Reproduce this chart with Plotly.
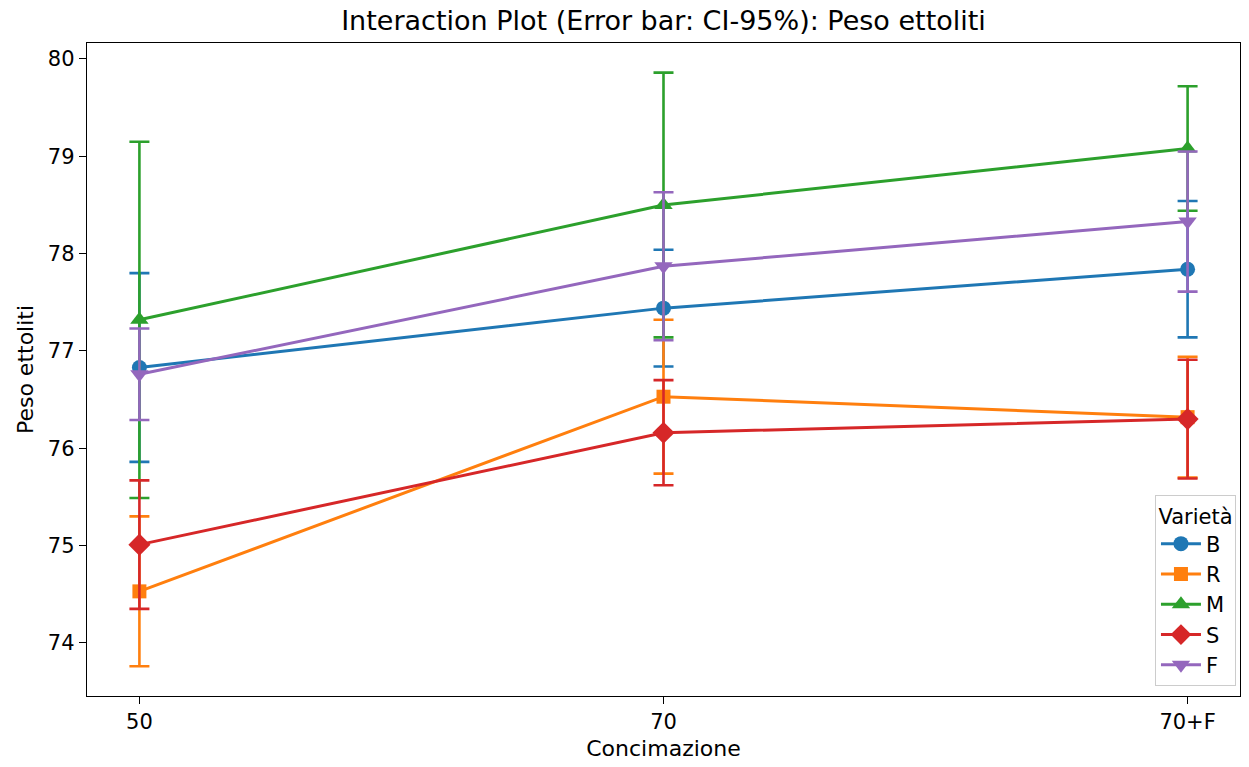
import plotly.graph_objects as go

categories = ["50", "70", "70+F"]
varieties = ["B", "R", "M", "S", "F"]
means_B = [76.83, 77.44, 77.84]
err_B = [0.97, 0.60, 0.70]
means_R = [74.53, 76.53, 76.32]
err_R = [0.77, 0.79, 0.62]
means_M = [77.32, 78.50, 79.08]
err_M = [1.83, 1.36, 0.64]
means_S = [75.01, 76.16, 76.30]
err_S = [0.66, 0.54, 0.61]
means_F = [76.76, 77.87, 78.33]
err_F = [0.47, 0.76, 0.72]
yticks = [74, 75, 76, 77, 78, 79, 80]

colors = ["#1f77b4", "#ff7f0e", "#2ca02c", "#d62728", "#9467bd"]
symbols = ["circle", "square", "triangle-up", "diamond", "triangle-down"]
sizes = [15, 14, 16, 17, 16]
series = [(means_B, err_B), (means_R, err_R), (means_M, err_M), (means_S, err_S), (means_F, err_F)]

FONT = "DejaVu Sans"
fig = go.Figure()
for name, (m, e), c, s, sz in zip(varieties, series, colors, symbols, sizes):
    fig.add_trace(go.Scatter(
        x=categories, y=m, name=name, mode="lines+markers",
        line=dict(color=c, width=3),
        marker=dict(color=c, symbol=s, size=sz, line=dict(width=0)),
        error_y=dict(type="data", array=e, visible=True, color=c, thickness=2.6, width=10),
    ))

fig.update_layout(
    width=1249, height=767,
    margin=dict(l=87, r=9, t=43, b=71),
    paper_bgcolor="white", plot_bgcolor="white",
    font=dict(family=FONT, size=21, color="black"),
    title=dict(text="Interaction Plot (Error bar: CI-95%): Peso ettoliti",
               x=(87 + 1240) / 2 / 1249, xanchor="center",
               y=1 - 21 / 767, yanchor="middle", yref="container",
               font=dict(family=FONT, size=27, color="black")),
    showlegend=True,
    legend=dict(
        title=dict(text="Varietà", side="top center", font=dict(size=21)),
        x=0.9965, xanchor="right", y=0.015, yanchor="bottom",
        bgcolor="rgba(255,255,255,0.85)", bordercolor="#cccccc", borderwidth=1,
        font=dict(size=21), itemwidth=40, tracegroupgap=0,
    ),
)
fig.update_xaxes(
    type="category", range=[-0.1, 2.1],
    title=dict(text="Concimazione", font=dict(size=22), standoff=7),
    showline=True, linecolor="black", linewidth=1.4, mirror=True,
    ticks="outside", ticklen=7, tickwidth=1.4, tickcolor="black",
    showgrid=False, zeroline=False,
)
fig.update_yaxes(
    range=[73.455, 80.164], tickvals=yticks,
    title=dict(text="Peso ettoliti", font=dict(size=22), standoff=8),
    showline=True, linecolor="black", linewidth=1.4, mirror=True,
    ticks="outside", ticklen=7, tickwidth=1.4, tickcolor="black",
    showgrid=False, zeroline=False,
)
fig.write_html("out.html")
